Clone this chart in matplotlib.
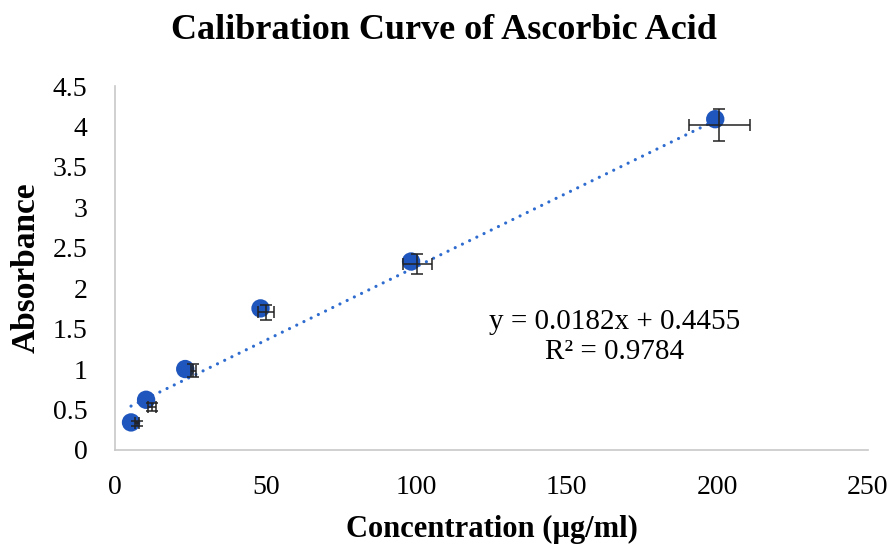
import numpy as np
import matplotlib
matplotlib.use("Agg")
import matplotlib.pyplot as plt

# data
conc = [5.3, 10.3, 23.3, 48.3, 98.3, 199.3]
absorb = [0.34, 0.62, 1.00, 1.75, 2.33, 4.09]

# error bar series (drawn a bit offset, as in the excel original)
err_x = [7.3, 12.3, 26.0, 50.0, 100.3, 200.7]
err_y = [0.33, 0.53, 0.98, 1.70, 2.30, 4.02]
xerr = [0.8, 1.3, 0.8, 2.7, 4.8, 10.0]
yerr = [0.03, 0.05, 0.08, 0.09, 0.12, 0.20]

slope = 0.0182
intercept = 0.4455
r2 = 0.9784

plt.rcParams['font.family'] = ['Liberation Serif', 'DejaVu Serif']

fig = plt.figure(figsize=(8.92, 5.48), dpi=100)
ax = fig.add_axes([0.129, 0.179, 0.844, 0.664])

# trendline
xs = np.linspace(min(conc), max(conc), 200)
ax.plot(xs, slope * xs + intercept, color='#2f6ccf', linestyle=(0, (0.01, 2.5)),
        linewidth=2.3, dash_capstyle='round', zorder=2)

ax.scatter(conc, absorb, s=175, color='#1f56bd', zorder=3, edgecolors='none')
ax.errorbar(err_x, err_y, xerr=xerr, yerr=yerr, fmt='none', ecolor='#222222',
            elinewidth=1.1, capsize=4.5, capthick=1.1, zorder=4)

ax.set_xlim(0, 250)
ax.set_ylim(0, 4.5)
ax.set_xticks([0, 50, 100, 150, 200, 250])
ax.set_yticks([0, 0.5, 1, 1.5, 2, 2.5, 3, 3.5, 4, 4.5])
ax.set_yticklabels(['0', '0.5', '1', '1.5', '2', '2.5', '3', '3.5', '4', '4.5'])
ax.tick_params(length=0, labelsize=20)
ax.tick_params(axis='y', pad=20)
ax.tick_params(axis='x', pad=18)

for s in ['top', 'right']:
    ax.spines[s].set_visible(False)
for s in ['left', 'bottom']:
    ax.spines[s].set_color('#c8c8c8')
    ax.spines[s].set_linewidth(1.2)

ax.set_xlabel('Concentration (µg/ml)', fontsize=22, fontweight='bold', labelpad=11)
ax.set_ylabel('Absorbance', fontsize=24, fontweight='bold', labelpad=8)
fig.text(0.498, 0.945, 'Calibration Curve of Ascorbic Acid', fontsize=26,
         fontweight='bold', ha='center', va='center')

ax.text(166, 1.40, 'y = 0.0182x + 0.4455\nR² = 0.9784', fontsize=21,
        ha='center', va='center', linespacing=1.2)

fig.savefig('out.png', dpi=100)
